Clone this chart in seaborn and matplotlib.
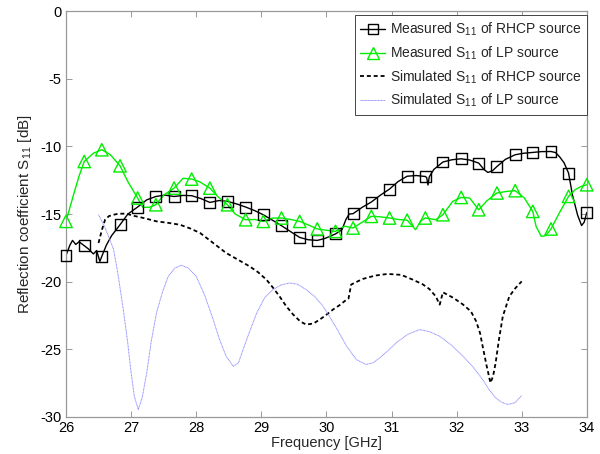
import numpy as np
import pandas as pd
import matplotlib
matplotlib.use("Agg")
import matplotlib.pyplot as plt
from matplotlib.lines import Line2D
import seaborn as sns

# Marker frequencies of the measured curves (GHz)
meas_f = [26.00, 26.28, 26.55, 26.83, 27.10, 27.38, 27.66, 27.93, 28.21, 28.48,
          28.76, 29.03, 29.31, 29.59, 29.86, 30.14, 30.41, 30.69, 30.97, 31.24,
          31.52, 31.79, 32.07, 32.34, 32.62, 32.90, 33.17, 33.45, 33.72, 34.00]

# Measured S11, RHCP source (dB) at the marker frequencies
rhcp_meas_db = [-18.06, -17.34, -18.13, -15.79, -14.48, -13.70, -13.70, -13.64, -14.14, -14.06,
                -14.48, -15.05, -15.86, -16.73, -16.95, -16.47, -14.97, -14.11, -13.15, -12.20,
                -12.22, -11.15, -10.91, -11.23, -11.48, -10.61, -10.44, -10.37, -11.97, -14.88]
# Intermediate measured RHCP samples between markers
rhcp_detail_f = [26.06, 26.10, 26.15, 26.20, 26.35, 26.42, 26.47, 26.52, 26.62, 26.70,
                 26.95, 27.24, 27.52, 27.80, 28.07, 28.35, 28.62, 28.90, 29.17, 29.45,
                 29.72, 29.98, 30.24, 30.30, 30.35, 30.55, 30.83, 31.10, 31.38, 31.54,
                 31.56, 31.58, 31.65, 31.93, 32.20, 32.42, 32.48, 32.55, 32.75, 33.03,
                 33.30, 33.52, 33.58, 33.65, 33.78, 33.86, 33.92, 33.96]
rhcp_detail_db = [-17.30, -16.95, -17.25, -17.05, -17.60, -17.95, -17.70, -18.50, -17.30, -16.60,
                  -15.00, -13.95, -13.60, -13.62, -13.85, -14.00, -14.25, -14.75, -15.45, -16.30,
                  -16.90, -16.80, -16.15, -15.40, -15.00, -14.50, -13.60, -12.60, -12.15, -12.30,
                  -12.85, -12.25, -11.70, -10.98, -11.00, -11.70, -11.92, -11.80, -10.95, -10.50,
                  -10.38, -10.45, -10.75, -11.20, -13.60, -15.10, -15.85, -15.60]

# Measured S11, LP source (dB) at the marker frequencies
lp_meas_db = [-15.54, -11.11, -10.24, -11.43, -13.81, -14.31, -13.08, -12.41, -13.08, -14.31,
              -15.42, -15.54, -15.29, -15.54, -16.10, -16.28, -16.03, -15.17, -15.29, -15.45,
              -15.29, -15.05, -13.77, -14.68, -13.44, -13.27, -14.80, -16.10, -13.69, -12.83]
# Intermediate measured LP samples between markers
lp_detail_f = [26.12, 26.20, 26.42, 26.68, 26.95, 27.18, 27.28, 27.50, 27.80, 28.05,
               28.33, 28.60, 28.90, 29.17, 29.45, 29.72, 30.00, 30.28, 30.55, 30.82,
               31.10, 31.37, 31.45, 31.68, 31.94, 32.20, 32.47, 32.76, 33.04, 33.22,
               33.30, 33.37, 33.58, 33.82, 33.91]
lp_detail_db = [-13.50, -12.20, -10.50, -10.60, -12.60, -14.50, -14.50, -13.60, -12.35, -12.60,
                -13.70, -15.00, -15.40, -15.30, -15.40, -15.80, -16.20, -15.90, -15.60, -15.20,
                -15.40, -16.16, -15.50, -15.42, -14.06, -13.81, -14.00, -13.33, -13.81, -15.90,
                -16.65, -16.60, -14.90, -13.20, -12.96]

# Simulated S11, RHCP source
sim_rhcp_f = [26.50, 26.55, 26.60, 26.66, 26.73, 26.80, 26.88, 26.95, 27.03, 27.20,
              27.39, 27.57, 27.75, 27.90, 28.06, 28.25, 28.46, 28.65, 28.82, 28.95,
              29.08, 29.18, 29.28, 29.38, 29.49, 29.60, 29.69, 29.80, 29.90, 30.00,
              30.10, 30.20, 30.31, 30.34, 30.38, 30.45, 30.56, 30.75, 30.94, 31.15,
              31.33, 31.48, 31.58, 31.68, 31.74, 31.79, 31.95, 32.10, 32.22, 32.30,
              32.36, 32.40, 32.46, 32.52, 32.56, 32.60, 32.65, 32.71, 32.81, 32.90, 33.00]
sim_rhcp_db = [-17.14, -16.20, -15.42, -15.15, -15.05, -14.98, -14.97, -15.00, -15.12, -15.30,
               -15.54, -15.65, -15.79, -16.05, -16.40, -17.10, -17.88, -18.40, -18.87, -19.30,
               -19.86, -20.45, -21.09, -21.80, -22.44, -22.95, -23.18, -23.10, -22.80, -22.45,
               -22.07, -21.75, -21.33, -21.25, -20.22, -20.05, -19.80, -19.55, -19.43, -19.50,
               -19.86, -20.20, -20.54, -21.09, -21.70, -20.79, -21.20, -21.70, -22.20, -22.93,
               -23.80, -24.78, -26.20, -27.49, -27.00, -26.00, -24.30, -22.56, -21.09, -20.50, -19.98]

# Simulated S11, LP source
sim_lp_f = [26.50, 26.60, 26.73, 26.80, 26.88, 26.95, 27.00, 27.05, 27.11, 27.17,
            27.24, 27.31, 27.39, 27.48, 27.57, 27.67, 27.77, 27.88, 28.00, 28.13,
            28.26, 28.36, 28.46, 28.57, 28.65, 28.72, 28.82, 28.93, 29.05, 29.18,
            29.30, 29.44, 29.56, 29.69, 29.82, 29.95, 30.05, 30.15, 30.31, 30.46,
            30.61, 30.72, 30.82, 30.95, 31.07, 31.25, 31.43, 31.58, 31.74, 31.92,
            32.10, 32.25, 32.40, 32.50, 32.60, 32.70, 32.79, 32.90, 33.00]
sim_lp_db = [-15.05, -16.00, -17.60, -19.50, -22.07, -24.60, -26.75, -28.50, -29.46, -28.60,
             -26.75, -24.40, -22.31, -20.80, -19.61, -19.00, -18.79, -19.00, -19.61, -21.00,
             -22.80, -24.30, -25.52, -26.26, -26.00, -25.03, -23.70, -22.31, -21.20, -20.59,
             -20.25, -20.10, -20.20, -20.59, -21.10, -21.83, -22.60, -23.40, -24.78, -25.77,
             -26.13, -26.00, -25.64, -25.10, -24.53, -23.90, -23.55, -23.70, -24.04, -24.70,
             -25.52, -26.30, -27.24, -28.00, -28.60, -28.95, -29.09, -28.95, -28.43]

x_ticks = [26, 27, 28, 29, 30, 31, 32, 33, 34]
y_ticks = [-30, -25, -20, -15, -10, -5, 0]

labels = ["Measured S$_{11}$ of RHCP source",
          "Measured S$_{11}$ of LP source",
          "Simulated S$_{11}$ of RHCP source",
          "Simulated S$_{11}$ of LP source"]

sns.set_style("white")
plt.rcParams["font.family"] = ["Liberation Sans", "DejaVu Sans"]
plt.rcParams["mathtext.default"] = "regular"


def merged(f_a, y_a, f_b, y_b):
    df = pd.DataFrame({"f": list(f_a) + list(f_b), "db": list(y_a) + list(y_b)})
    return df.sort_values("f").reset_index(drop=True)


rhcp_line = merged(meas_f, rhcp_meas_db, rhcp_detail_f, rhcp_detail_db)
lp_line = merged(meas_f, lp_meas_db, lp_detail_f, lp_detail_db)
rhcp_pts = pd.DataFrame({"f": meas_f, "db": rhcp_meas_db})
lp_pts = pd.DataFrame({"f": meas_f, "db": lp_meas_db})
sim_rhcp = pd.DataFrame({"f": sim_rhcp_f, "db": sim_rhcp_db})
sim_lp = pd.DataFrame({"f": sim_lp_f, "db": sim_lp_db})

black = "#000000"
green = "#00ee00"
blue = "#8a8aff"
dash = (0, (2.2, 1.6))
dot = (0, (1, 0.5))

fig = plt.figure(figsize=(6.0, 4.54), dpi=100)
ax = fig.add_axes([0.110, 0.082, 0.868, 0.893])

sns.lineplot(data=rhcp_line, x="f", y="db", ax=ax, color=black, lw=1.0,
             sort=False, estimator=None)
sns.lineplot(data=lp_line, x="f", y="db", ax=ax, color=green, lw=1.0,
             sort=False, estimator=None)
sns.lineplot(data=sim_rhcp, x="f", y="db", ax=ax, color=black, lw=1.3,
             linestyle=dash, sort=False, estimator=None)
sns.lineplot(data=sim_lp, x="f", y="db", ax=ax, color=blue, lw=0.7,
             linestyle=dot, sort=False, estimator=None)
sns.scatterplot(data=rhcp_pts, x="f", y="db", ax=ax, marker="s", s=62,
                facecolors="none", edgecolor=black, linewidth=1.0, zorder=4)
sns.scatterplot(data=lp_pts, x="f", y="db", ax=ax, marker="^", s=80,
                facecolors="none", edgecolor=green, linewidth=1.0, zorder=4)
for coll in ax.collections:
    coll.set_clip_on(False)

ax.set_xlim(26, 34)
ax.set_ylim(-30, 0)
ax.set_xticks(x_ticks)
ax.set_yticks(y_ticks)
ax.set_xticklabels([str(v) for v in x_ticks])
ax.set_yticklabels([str(v) for v in y_ticks])
ax.tick_params(direction="in", length=4, width=0.6, colors="#888888",
               labelcolor="black", labelsize=10.5, top=True, right=True,
               bottom=True, left=True, pad=3)
for sp in ax.spines.values():
    sp.set_visible(True)
    sp.set_color("#999999")
    sp.set_linewidth(0.9)

ax.set_xlabel("Frequency [GHz]", fontsize=10.5, labelpad=1)
ax.set_ylabel("Reflection coefficient S$_{11}$ [dB]", fontsize=11, labelpad=5)

handles = [
    Line2D([], [], color=black, lw=1.0, marker="s", markersize=7.5,
           markerfacecolor="none", markeredgecolor=black),
    Line2D([], [], color=green, lw=1.0, marker="^", markersize=8.5,
           markerfacecolor="none", markeredgecolor=green),
    Line2D([], [], color=black, lw=1.3, linestyle=dash),
    Line2D([], [], color=blue, lw=0.7, linestyle=dot),
]
leg = ax.legend(handles, labels, loc="upper right", bbox_to_anchor=(1.0, 0.99),
                borderaxespad=0.0, fontsize=10, frameon=True, fancybox=False,
                framealpha=1.0, edgecolor="#444444", handlelength=1.8,
                handletextpad=0.3, labelspacing=0.45, borderpad=0.4)
leg.get_frame().set_linewidth(0.7)

fig.savefig("out.png", dpi=100)
